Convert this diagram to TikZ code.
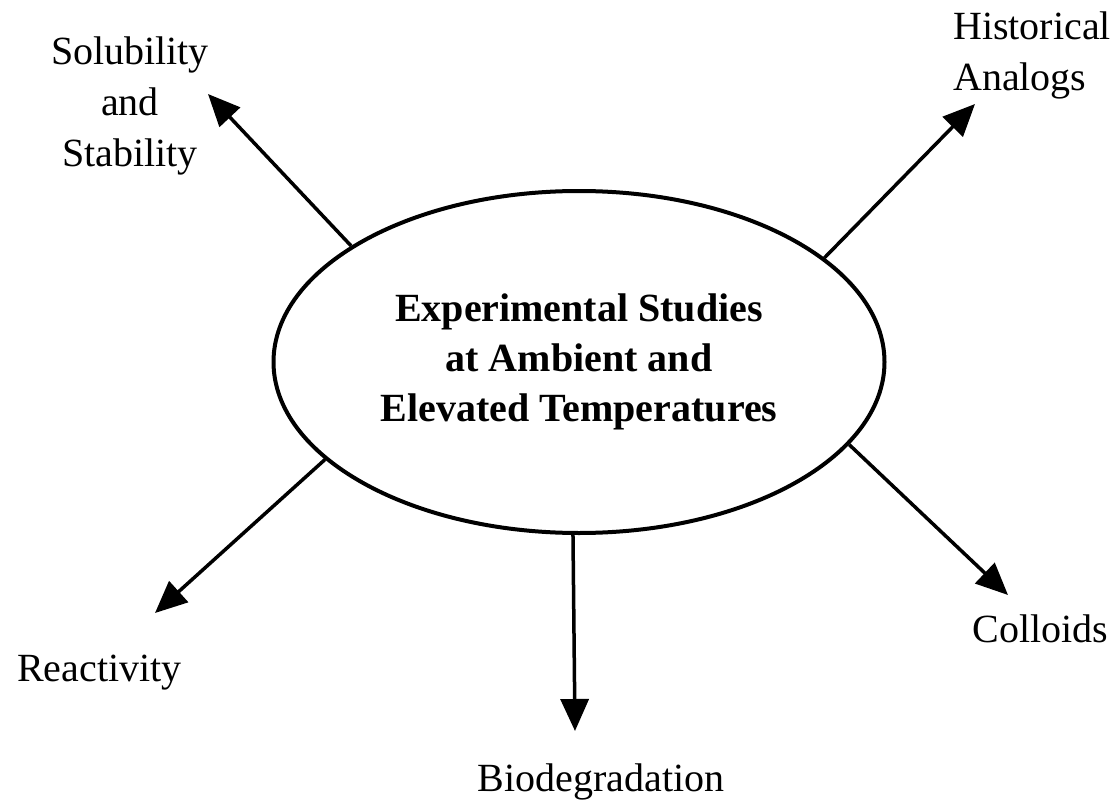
\documentclass[tikz,border=0pt]{standalone}
\usepackage{fontspec}
\setmainfont{Liberation Serif}
\usetikzlibrary{arrows.meta,shapes.geometric}
\begin{document}
\begin{tikzpicture}[x=1pt,y=-1pt,
  lbl/.style={font=\fontsize{40}{51}\selectfont, inner sep=0pt, align=center},
  arr/.style={line width=3.5pt, -{Triangle[length=32pt,width=28pt]}}]
\useasboundingbox (0,0) rectangle (1120,800);
\node[draw, ellipse, line width=4pt, minimum width=611pt, minimum height=342pt,
      inner sep=0pt, align=center, font=\bfseries\fontsize{40}{50}\selectfont]
      (ell) at (579,362) {Experimental Studies\\at Ambient and\\Elevated Temperatures};
\node[lbl, anchor=center] (sol) at (130,106) {Solubility\\and\\Stability};
\node[lbl, align=left, anchor=west] (his) at (953,55) {Historical\\Analogs};
\node[lbl, anchor=base] (rea) at (99.5,681) {Reactivity};
\node[lbl, anchor=base] (col) at (1040.5,642) {Colloids};
\node[lbl, anchor=base] (bio) at (601,791) {Biodegradation};
\coordinate (t1) at (208,94);
\coordinate (t2) at (975,104);
\coordinate (t3) at (155,613);
\coordinate (t4) at (575,731);
\coordinate (t5) at (1008,595);
\draw[arr] (ell.153.4) -- (t1);
\draw[arr] (ell.23.2) -- (t2);
\draw[arr] (ell.201.8) -- (t3);
\draw[arr] (ell.268.3) -- (t4);
\draw[arr] (ell.343.8) -- (t5);
\end{tikzpicture}
\end{document}
